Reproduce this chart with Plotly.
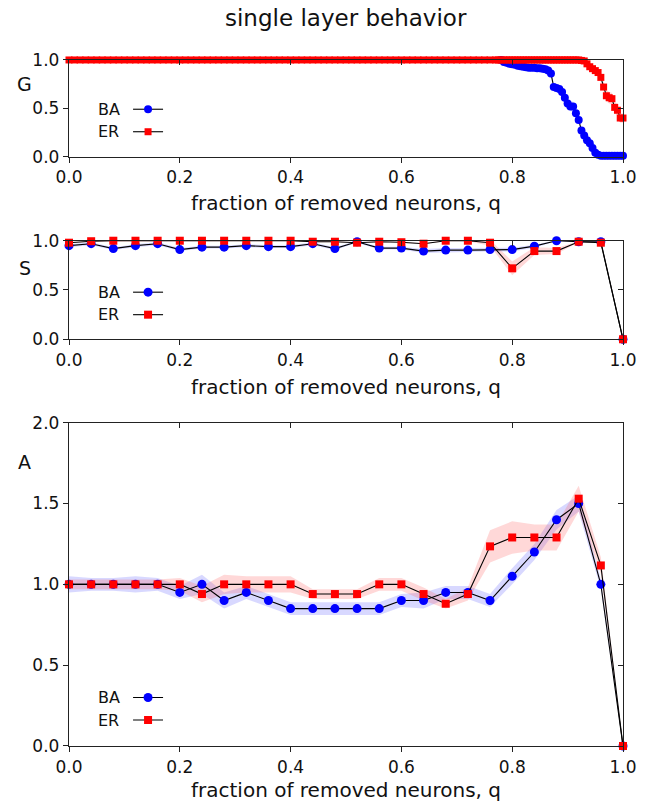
import plotly.graph_objects as go

FONT = "DejaVu Sans"
BLUE = "#0000ff"
RED = "#ff0000"
BAND_B = "rgba(90,90,255,0.24)"
BAND_R = "rgba(255,90,90,0.24)"

# ---------------- G panel (giant component) ----------------
q_G_head = [0.00, 0.01, 0.02, 0.03, 0.04, 0.05, 0.06, 0.07, 0.08, 0.09,
            0.10, 0.11, 0.12, 0.13, 0.14, 0.15, 0.16, 0.17, 0.18, 0.19,
            0.20, 0.21, 0.22, 0.23, 0.24, 0.25, 0.26, 0.27, 0.28, 0.29,
            0.30, 0.31, 0.32, 0.33, 0.34, 0.35, 0.36, 0.37, 0.38, 0.39,
            0.40, 0.41, 0.42, 0.43, 0.44, 0.45, 0.46, 0.47, 0.48, 0.49,
            0.50, 0.51, 0.52, 0.53, 0.54, 0.55, 0.56, 0.57, 0.58, 0.59,
            0.60, 0.61, 0.62, 0.63, 0.64, 0.65, 0.66, 0.67, 0.68, 0.69,
            0.70, 0.71, 0.72, 0.73, 0.74, 0.75, 0.76]
G_BA_head = [1.04, 1.04, 1.04, 1.04, 1.04, 1.04, 1.04, 1.04, 1.04, 1.04,
             1.04, 1.04, 1.04, 1.04, 1.04, 1.04, 1.04, 1.04, 1.04, 1.04,
             1.04, 1.04, 1.04, 1.04, 1.04, 1.04, 1.04, 1.04, 1.04, 1.04,
             1.04, 1.04, 1.04, 1.04, 1.04, 1.04, 1.04, 1.04, 1.04, 1.04,
             1.04, 1.04, 1.04, 1.04, 1.04, 1.04, 1.04, 1.04, 1.04, 1.04,
             1.04, 1.04, 1.04, 1.04, 1.04, 1.04, 1.04, 1.04, 1.04, 1.04,
             1.04, 1.04, 1.04, 1.04, 1.038, 1.036, 1.034, 1.032, 1.03, 1.03,
             1.028, 1.026, 1.024, 1.022, 1.02, 1.02, 1.018]
G_ER_head = [1.0, 1.0, 1.0, 1.0, 1.0, 1.0, 1.0, 1.0, 1.0, 1.0,
             1.0, 1.0, 1.0, 1.0, 1.0, 1.0, 1.0, 1.0, 1.0, 1.0,
             1.0, 1.0, 1.0, 1.0, 1.0, 1.0, 1.0, 1.0, 1.0, 1.0,
             1.0, 1.0, 1.0, 1.0, 1.0, 1.0, 1.0, 1.0, 1.0, 1.0,
             1.0, 1.0, 1.0, 1.0, 1.0, 1.0, 1.0, 1.0, 1.0, 1.0,
             1.0, 1.0, 1.0, 1.0, 1.0, 1.0, 1.0, 1.0, 1.0, 1.0,
             1.0, 1.0, 1.0, 1.0, 1.0, 1.0, 1.0, 1.0, 1.0, 1.0,
             1.0, 1.0, 1.0, 1.0, 1.0, 1.0, 1.0]

q_G_tail = [0.770, 0.775, 0.780, 0.785, 0.790, 0.795, 0.800, 0.805, 0.810, 0.815,
            0.820, 0.825, 0.830, 0.835, 0.840, 0.845, 0.850, 0.855, 0.860, 0.865,
            0.870, 0.875, 0.880, 0.885, 0.890, 0.895, 0.900, 0.905, 0.910, 0.915,
            0.920, 0.925, 0.930, 0.935, 0.940, 0.945, 0.950, 0.955, 0.960, 0.965,
            0.970, 0.975, 0.980, 0.985, 0.990, 0.995, 1.000]
G_BA_tail = [1.015, 1.01, 1.0, 0.98, 0.97, 0.96, 0.955, 0.95, 0.94, 0.935,
             0.93, 0.925, 0.92, 0.92, 0.92, 0.915, 0.915, 0.91, 0.905, 0.89,
             0.86, 0.72, 0.71, 0.70, 0.67, 0.61, 0.55, 0.52, 0.52, 0.45,
             0.38, 0.27, 0.22, 0.17, 0.14, 0.09, 0.04, 0.02, 0.01, 0.01,
             0.01, 0.01, 0.01, 0.01, 0.01, 0.01, 0.01]
G_BA_err = [0.005, 0.005, 0.005, 0.01, 0.01, 0.01, 0.01, 0.01, 0.01, 0.01,
            0.01, 0.01, 0.01, 0.01, 0.01, 0.01, 0.01, 0.01, 0.015, 0.02,
            0.03, 0.04, 0.04, 0.04, 0.05, 0.05, 0.05, 0.05, 0.05, 0.04,
            0.04, 0.03, 0.03, 0.03, 0.02, 0.02, 0.01, 0.01, 0.005, 0.005,
            0.005, 0.005, 0.005, 0.005, 0.005, 0.005, 0.005]
G_ER_tail = [1.0, 1.0, 1.0, 1.0, 1.0, 1.0, 1.0, 1.0, 1.0, 1.0,
             1.0, 1.0, 1.0, 1.0, 1.0, 1.0, 1.0, 1.0, 1.0, 1.0,
             1.0, 1.0, 1.0, 1.0, 1.0, 1.0, 1.0, 1.0, 1.0, 1.0,
             1.0, 0.995, 0.99, 0.96, 0.93, 0.91, 0.89, 0.87, 0.82, 0.72,
             0.63, 0.61, 0.60, 0.51, 0.48, 0.40, 0.40]
G_ER_err = [0.0, 0.0, 0.0, 0.0, 0.0, 0.0, 0.0, 0.0, 0.0, 0.0,
            0.0, 0.0, 0.0, 0.0, 0.0, 0.0, 0.0, 0.0, 0.0, 0.0,
            0.0, 0.0, 0.0, 0.0, 0.0, 0.0, 0.0, 0.0, 0.0, 0.0,
            0.005, 0.01, 0.01, 0.02, 0.02, 0.03, 0.03, 0.04, 0.05, 0.06,
            0.06, 0.06, 0.06, 0.06, 0.06, 0.05, 0.05]

# ---------------- S and A panels ----------------
q = [0.00, 0.04, 0.08, 0.12, 0.16, 0.20, 0.24, 0.28, 0.32, 0.36,
     0.40, 0.44, 0.48, 0.52, 0.56, 0.60, 0.64, 0.68, 0.72, 0.76,
     0.80, 0.84, 0.88, 0.92, 0.96, 1.00]

S_BA = [0.95, 0.97, 0.92, 0.95, 0.97, 0.91, 0.935, 0.935, 0.95, 0.94,
        0.94, 0.97, 0.92, 0.99, 0.925, 0.925, 0.895, 0.905, 0.905, 0.91,
        0.91, 0.945, 1.0, 0.99, 0.99, 0.0]
S_BA_err = [0.015, 0.015, 0.015, 0.015, 0.015, 0.015, 0.015, 0.015, 0.015, 0.015,
            0.015, 0.015, 0.015, 0.01, 0.015, 0.015, 0.02, 0.02, 0.02, 0.02,
            0.02, 0.015, 0.005, 0.005, 0.005, 0.0]
S_ER = [0.98, 0.995, 1.0, 1.0, 1.0, 1.0, 1.0, 1.0, 1.0, 1.0,
        1.0, 0.99, 0.99, 0.98, 0.99, 0.985, 0.97, 1.0, 1.0, 0.98,
        0.72, 0.895, 0.895, 0.99, 0.98, 0.0]
S_ER_err = [0.005, 0.005, 0.005, 0.005, 0.005, 0.005, 0.005, 0.005, 0.005, 0.005,
            0.005, 0.005, 0.005, 0.005, 0.005, 0.005, 0.005, 0.005, 0.005, 0.03,
            0.07, 0.04, 0.03, 0.005, 0.005, 0.0]

A_BA = [1.0, 1.0, 1.0, 1.0, 1.0, 0.95, 1.0, 0.90, 0.95, 0.90,
        0.85, 0.85, 0.85, 0.85, 0.85, 0.90, 0.90, 0.95, 0.95, 0.90,
        1.05, 1.20, 1.40, 1.50, 1.0, 0.0]
A_BA_err = [0.05, 0.04, 0.04, 0.05, 0.04, 0.04, 0.06, 0.05, 0.04, 0.04,
            0.04, 0.04, 0.04, 0.04, 0.04, 0.04, 0.05, 0.04, 0.04, 0.04,
            0.05, 0.05, 0.06, 0.05, 0.03, 0.0]
A_ER = [1.0, 1.0, 1.0, 1.0, 1.0, 1.0, 0.94, 1.0, 1.0, 1.0,
        1.0, 0.94, 0.94, 0.94, 1.0, 1.0, 0.94, 0.88, 0.94, 1.235,
        1.29, 1.29, 1.29, 1.53, 1.117, 0.0]
A_ER_err = [0.03, 0.03, 0.03, 0.03, 0.03, 0.04, 0.05, 0.06, 0.05, 0.05,
            0.05, 0.03, 0.03, 0.03, 0.04, 0.04, 0.04, 0.03, 0.04, 0.10,
            0.10, 0.08, 0.08, 0.08, 0.05, 0.0]

x_ticks = [0.0, 0.2, 0.4, 0.6, 0.8, 1.0]
y_ticks_GS = [0.0, 0.5, 1.0]
y_ticks_A = [0.0, 0.5, 1.0, 1.5, 2.0]

fig = go.Figure()


def band(x, y, e, color, xa, ya):
    up = [a + b for a, b in zip(y, e)]
    lo = [a - b for a, b in zip(y, e)]
    fig.add_trace(go.Scatter(
        x=list(x) + list(x)[::-1], y=up + lo[::-1], fill="toself",
        fillcolor=color, line=dict(width=0), mode="lines",
        hoverinfo="skip", showlegend=False, xaxis=xa, yaxis=ya))


def series(x, y, color, symbol, size, xa, ya, legend):
    fig.add_trace(go.Scatter(
        x=x, y=y, mode="lines+markers",
        line=dict(color="black", width=1.1),
        marker=dict(color=color, symbol=symbol, size=size, line=dict(width=0)),
        name=" ", legend=legend, xaxis=xa, yaxis=ya, cliponaxis=False))


# G panel
band(q_G_tail, G_BA_tail, G_BA_err, BAND_B, "x", "y")
band(q_G_tail, G_ER_tail, G_ER_err, BAND_R, "x", "y")
series(q_G_head + q_G_tail, G_BA_head + G_BA_tail, BLUE, "circle", 8, "x", "y", "legend")
series(q_G_head + q_G_tail, G_ER_head + G_ER_tail, RED, "square", 7, "x", "y", "legend")

# S panel
band(q, S_BA, S_BA_err, BAND_B, "x2", "y2")
band(q, S_ER, S_ER_err, BAND_R, "x2", "y2")
series(q, S_BA, BLUE, "circle", 9, "x2", "y2", "legend2")
series(q, S_ER, RED, "square", 8, "x2", "y2", "legend2")

# A panel
band(q, A_BA, A_BA_err, BAND_B, "x3", "y3")
band(q, A_ER, A_ER_err, BAND_R, "x3", "y3")
series(q, A_BA, BLUE, "circle", 9, "x3", "y3", "legend3")
series(q, A_ER, RED, "square", 8, "x3", "y3", "legend3")

# invisible helper traces so that the mirrored (top / right) tick axes get drawn
panel_first = [(q_G_head[0], G_ER_head[0]), (q[0], S_ER[0]), (q[0], A_ER[0])]
for i in range(3):
    n = "" if i == 0 else str(i + 1)
    o = str(i + 4)
    px, py = panel_first[i]
    fig.add_trace(go.Scatter(x=[px], y=[py], xaxis="x" + o, yaxis="y" + n, mode="markers",
                             marker=dict(opacity=0), showlegend=False, hoverinfo="skip"))
    fig.add_trace(go.Scatter(x=[px], y=[py], xaxis="x" + n, yaxis="y" + o, mode="markers",
                             marker=dict(opacity=0), showlegend=False, hoverinfo="skip"))

AX = dict(showgrid=False, zeroline=False, showline=True, mirror=True, linecolor="#222",
          linewidth=1.4, ticks="outside", ticklen=5, tickwidth=1.2,
          tickcolor="#222", tickfont=dict(family=FONT, size=17, color="#111"),
          tickformat=".1f", automargin=False)
OV = dict(showgrid=False, zeroline=False, showline=False, ticks="inside", ticklen=5,
          tickwidth=1.2, tickcolor="#222", showticklabels=False, automargin=False)

domains = [[0.8058, 0.9257], [0.5796, 0.7017], [0.0756, 0.4762]]
yranges = [[0, 1], [0, 1], [0, 2]]
yticks = [y_ticks_GS, y_ticks_GS, y_ticks_A]

layout = {}
for i in range(3):
    n = "" if i == 0 else str(i + 1)
    o = str(i + 4)
    layout["xaxis" + n] = dict(AX, domain=[0, 1], anchor="y" + n, range=[0, 1], tickvals=x_ticks)
    layout["yaxis" + n] = dict(AX, domain=domains[i], anchor="x" + n, range=yranges[i], tickvals=yticks[i])
    layout["xaxis" + o] = dict(OV, overlaying="x" + n, anchor="y" + n, side="top", range=[0, 1], tickvals=x_ticks)
    layout["yaxis" + o] = dict(OV, overlaying="y" + n, anchor="x" + n, side="right", range=yranges[i], tickvals=yticks[i])

LEG = dict(xanchor="left", yanchor="middle", font=dict(family=FONT, size=15),
           bgcolor="rgba(0,0,0,0)", borderwidth=0, tracegroupgap=0)
layout["legend"] = dict(LEG, x=0.1066, y=0.8507)
layout["legend2"] = dict(LEG, x=0.1066, y=0.624)
layout["legend3"] = dict(LEG, x=0.1066, y=0.1217)

fig.update_layout(
    width=646, height=807, margin=dict(l=69, r=23, t=0, b=0, autoexpand=False),
    paper_bgcolor="white", plot_bgcolor="white",
    font=dict(family=FONT, color="#111"),
    **layout)

ann = []
ann.append(dict(text="single layer behavior", x=0.5, y=1 - 18 / 807, xref="paper", yref="paper",
                showarrow=False, font=dict(family=FONT, size=23, color="#111"), xanchor="center", yanchor="middle"))
for ylab, ypix in [("G", 84), ("S", 268), ("A", 462)]:
    ann.append(dict(text=ylab, x=(25 - 69) / 553.7, y=1 - ypix / 807, xref="paper", yref="paper",
                    showarrow=False, font=dict(family=FONT, size=19, color="#111"),
                    xanchor="center", yanchor="middle"))
for ypix in [203, 387, 790]:
    ann.append(dict(text="fraction of removed neurons, q", x=0.5, y=1 - ypix / 807, xref="paper",
                    yref="paper", showarrow=False, font=dict(family=FONT, size=20, color="#111"),
                    xanchor="center", yanchor="middle"))
for yb, ye in [(109.3, 131.7), (292.7, 314.0), (697.7, 720.0)]:
    for lab, yp in [("BA", yb), ("ER", ye)]:
        ann.append(dict(text=lab, x=(96 - 69) / 553.7, y=1 - yp / 807, xref="paper", yref="paper",
                        showarrow=False, font=dict(family=FONT, size=16, color="#111"),
                        xanchor="left", yanchor="middle"))
fig.update_layout(annotations=ann)

fig.write_html("out.html", config={"displayModeBar": False},
               post_script="document.body.style.margin='0px';")
